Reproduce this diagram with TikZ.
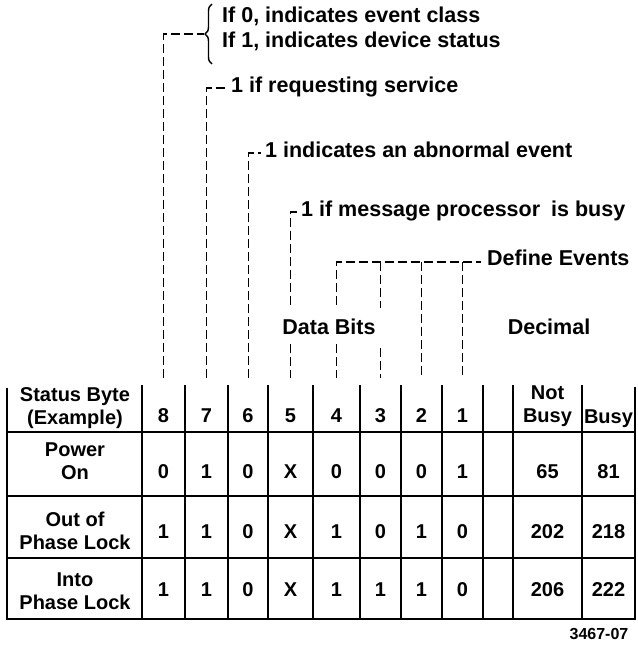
\documentclass[tikz,border=0pt]{standalone}
\usepackage{fontspec}
\setmainfont{Liberation Sans}
\usetikzlibrary{decorations.pathreplacing}
\begin{document}
\begin{tikzpicture}[x=1pt,y=-1pt,
  every node/.style={inner sep=0pt, font=\fontsize{20}{23}\selectfont\bfseries},
  big/.style={font=\fontsize{21.5}{24}\selectfont\bfseries},
  lbl/.style={big, anchor=west, text height=15pt, text depth=4pt},
  cell/.style={align=center},
  lead/.style={line width=1.5pt, dash pattern=on 9pt off 4pt},
  rowline/.style={line width=2.2pt},
  colline/.style={line width=1.3pt},
  outer/.style={line width=2.2pt}]
\useasboundingbox (0,0) rectangle (637,647);

% ---------- annotation texts ----------
\node[lbl] (t8a) at (222,17) {If 0, indicates event class};
\node[lbl] (t8b) at (222,42) {If 1, indicates device status};
\node[lbl] (t7) at (231,87) {1 if requesting service};
\node[lbl] (t6) at (265,152) {1 indicates an abnormal event};
\node[lbl] (t5) at (301,211) {1 if message processor\hspace{5pt} is busy};
\node[lbl] (tdef) at (487,260) {Define Events};
\node[big] (tdata) at (329,327) {Data Bits};
\node[big] (tdec) at (549,327) {Decimal};

% ---------- brace ----------
\draw[line width=1.4pt, decorate, decoration={brace, amplitude=7pt}] (212,64) -- (212,4);
\coordinate (brtip) at (204,34);

% ---------- leader coordinates ----------
\coordinate (b8t) at (163.5,34);  \coordinate (b8b) at (163.5,378);
\coordinate (b7t) at (206.5,88);  \coordinate (b7b) at (206.5,378);
\coordinate (b7e) at (226,88);
\coordinate (b6t) at (248.5,153); \coordinate (b6b) at (248.5,378);
\coordinate (b6e) at (261,153);
\coordinate (b5t) at (290.5,212); \coordinate (b5b) at (290.5,378);
\coordinate (b5e) at (297,212);
\coordinate (b5g1) at (290.5,305); \coordinate (b5g2) at (290.5,344);
\coordinate (b4t) at (336.5,262); \coordinate (b4b) at (336.5,378);
\coordinate (b4g1) at (336.5,305); \coordinate (b4g2) at (336.5,344);
\coordinate (b3t) at (380.5,262); \coordinate (b3b) at (380.5,378);
\coordinate (b3g1) at (380.5,308); \coordinate (b3g2) at (380.5,348);
\coordinate (b2t) at (421.5,262); \coordinate (b2b) at (421.5,378);
\coordinate (b1t) at (462.5,262); \coordinate (b1b) at (462.5,378);
\coordinate (defe) at (481,262);

\draw[lead] (b8b) -- (b8t) -- (brtip);
\draw[lead] (b7b) -- (b7t) -- (b7e);
\draw[lead] (b6b) -- (b6t) -- (b6e);
\draw[lead] (b5g1) -- (b5t) -- (b5e);
\draw[lead] (b5g2) -- (b5b);
\draw[lead] (b4g1) -- (b4t) -- (defe);
\draw[lead] (b4g2) -- (b4b);
\draw[lead] (b3t) -- (b3g1);
\draw[lead] (b3g2) -- (b3b);
\draw[lead] (b2t) -- (b2b);
\draw[lead] (b1t) -- (b1b);

% ---------- table lines ----------
\foreach \x in {142,185,228,268,313,360,401,442,483,513,582}
  \draw[colline] (\x,385) -- (\x,619);
\foreach \y in {432,496,558}
  \draw[rowline] (7,\y) -- (635,\y);
\draw[outer] (7,388) -- (7,619) -- (635,619) -- (635,387);

% ---------- table text ----------
\node[cell] (hs) at (75,408) {Status Byte\\(Example)};
\foreach \x/\d in {163.5/8,206.5/7,248/6,290.5/5,336.5/4,380.5/3,421.5/2,462.5/1}
  \node (h\d) at (\x,416) {\d};
\node[cell] (hnb) at (547.5,406) {Not\\Busy};
\node (hb) at (608.5,419) {Busy};

\node[cell] (ra0) at (75,461) {Power\\On};
\node[cell] (rb0) at (75,531) {Out of\\Phase Lock};
\node[cell] (rc0) at (75,591) {Into\\Phase Lock};

\foreach \x/\a/\b/\c [count=\i] in {163.5/0/1/1, 206.5/1/1/1, 248/0/0/0, 290.5/X/X/X, 336.5/0/1/1, 380.5/0/0/1, 421.5/0/1/1, 462.5/1/0/0, 547.5/65/202/206, 608.5/81/218/222} {
  \node (ra\i) at (\x,472) {\a};
  \node (rb\i) at (\x,532) {\b};
  \node (rc\i) at (\x,590) {\c};
}

\node[font=\fontsize{16}{18}\selectfont\bfseries] (fig) at (599,634) {3467-07};
\end{tikzpicture}
\end{document}
